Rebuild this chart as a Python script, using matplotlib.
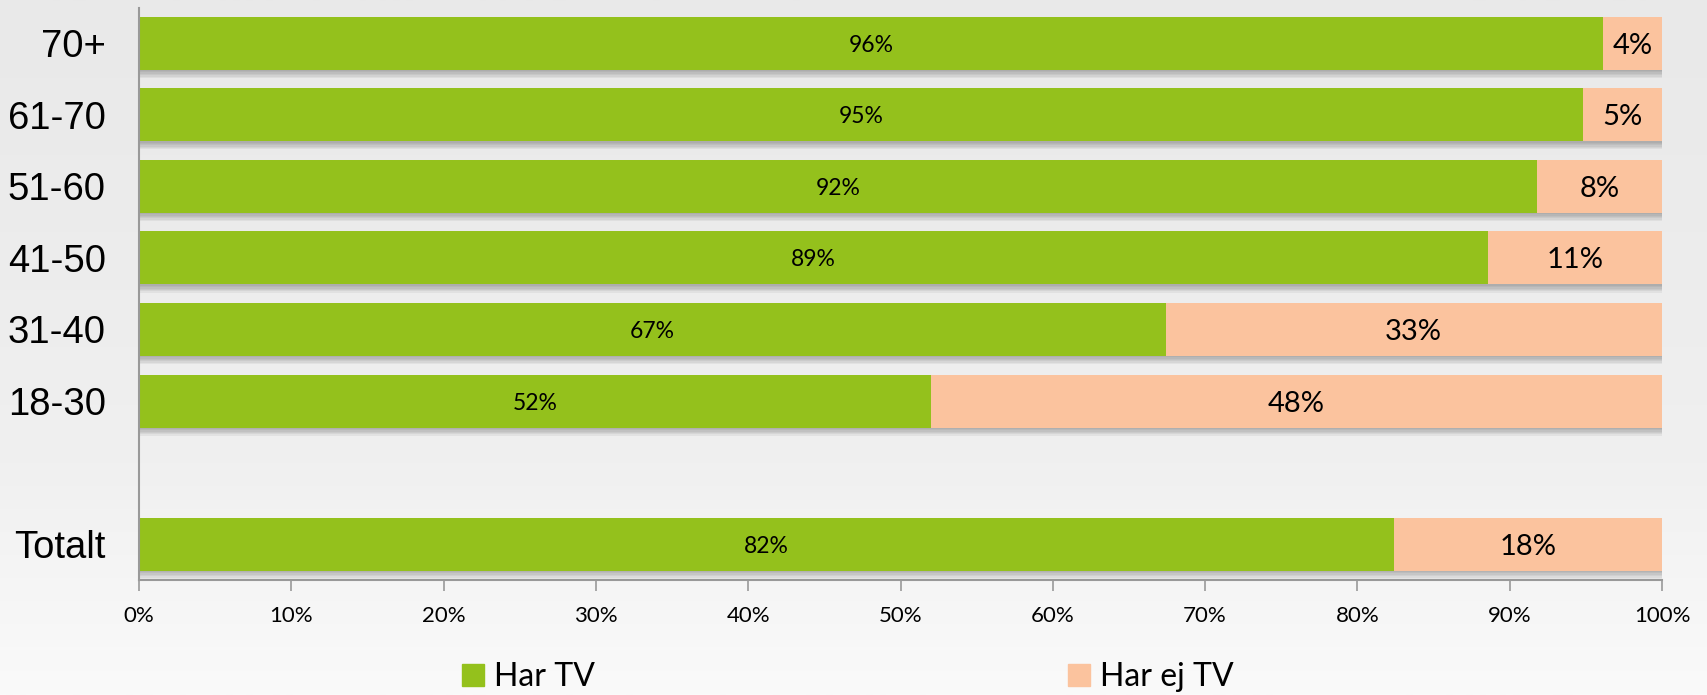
import numpy as np
import matplotlib
matplotlib.use("Agg")
import matplotlib.pyplot as plt
import matplotlib.patheffects as pe
from matplotlib.patches import Patch

# data (top to bottom), blank slot before "Totalt"
groups = ["70+", "61-70", "51-60", "41-50", "31-40", "18-30", "", "Totalt"]
har_tv = [96.1, 94.8, 91.8, 88.6, 67.4, 52.0, None, 82.4]
series_names = ["Har TV", "Har ej TV"]
x_ticks = [0, 10, 20, 30, 40, 50, 60, 70, 80, 90, 100]

green = "#94c11c"
orange = "#fbc39e"

fig = plt.figure(figsize=(17.07, 6.95), dpi=100)

# background gradient
bg = fig.add_axes([0, 0, 1, 1], zorder=-10)
grad = np.linspace(0, 1, 256).reshape(-1, 1)
bg.imshow(grad, aspect="auto", cmap=matplotlib.colors.LinearSegmentedColormap.from_list(
    "bg", ["#e9e9e9", "#ececec", "#f0f0f0", "#fafafa"]), extent=[0, 1, 0, 1])
bg.axis("off")

ax = fig.add_axes([139/1707, 1 - 580/695, (1662 - 139)/1707, (580 - 8)/695])
ax.patch.set_alpha(0)

ypos = [i for i, v in enumerate(har_tv) if v is not None]
tv = [har_tv[i] for i in ypos]
ej = [100 - v for v in tv]

# soft drop shadow: several faint offset copies
shadow = [pe.SimplePatchShadow(offset=(0.5, -k), shadow_rgbFace="#444444", alpha=0.07)
          for k in (1, 2, 3, 4, 5, 6)] + [pe.Normal()]
b1 = ax.barh(ypos, tv, height=0.74, color=green, path_effects=shadow)
b2 = ax.barh(ypos, ej, left=tv, height=0.74, color=orange, path_effects=shadow)

for y, a, b in zip(ypos, tv, ej):
    ax.text(a / 2, y, f"{a:.0f}%", ha="center", va="center_baseline", fontsize=16.5,
            family="Lato", color="black")
    ax.text(a + b / 2, y, f"{b:.0f}%", ha="center", va="center_baseline", fontsize=21,
            family="Lato", color="black")

ax.set_xlim(0, 100)
ax.set_ylim(len(groups) - 0.5, -0.49)
ax.set_yticks(range(len(groups)))
ax.set_yticklabels(groups, fontsize=27.5, family="Liberation Sans")
ax.tick_params(axis="y", length=0, pad=24)
ax.set_xticks(x_ticks)
ax.set_xticklabels([f"{t}%" for t in x_ticks], fontsize=16, family="Lato")
ax.tick_params(axis="x", length=8, width=1.2, color="#999999", pad=11)

for s in ["top", "right"]:
    ax.spines[s].set_visible(False)
for s in ["left", "bottom"]:
    ax.spines[s].set_color("#999999")
    ax.spines[s].set_linewidth(1.5)

handles = [Patch(color=green), Patch(color=orange)]
leg = fig.legend(handles, series_names, loc="center left", bbox_to_anchor=(462/1707, 1 - 677/695),
                 ncol=2, frameon=False, handlelength=0.7, handleheight=0.7, handletextpad=0.3,
                 columnspacing=14.8, borderpad=0, borderaxespad=0,
                 prop={"family": "Lato", "size": 23})

fig.savefig("out.png", dpi=100)
